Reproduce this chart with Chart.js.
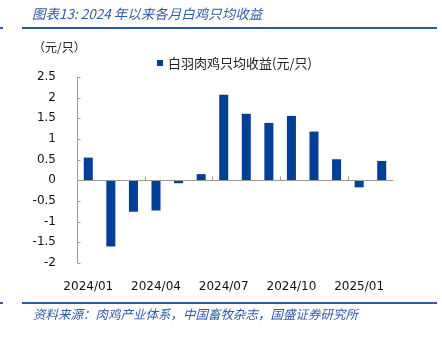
<!DOCTYPE html>
<html>
<head>
<meta charset="utf-8">
<script src="https://cdn.jsdelivr.net/npm/chart.js@4"></script>
<style>
  html, body { margin: 0; padding: 0; background: #fff; }
  #wrap { width: 442px; height: 337px; position: relative; }
</style>
</head>
<body>
<div id="wrap"><canvas id="profitChart" width="442" height="337"></canvas></div>
<script>
// Chart data
const months = ['2024/01', '2024/02', '2024/03', '2024/04', '2024/05', '2024/06', '2024/07',
  '2024/08', '2024/09', '2024/10', '2024/11', '2024/12', '2025/01', '2025/02'];
const profitPerBird = [0.55, -1.6, -0.76, -0.73, -0.07, 0.15, 2.07, 1.61, 1.39, 1.56, 1.18, 0.51, -0.17, 0.47];
const seriesLabel = '白羽肉鸡只均收益(元/只)';
const titleText = '图表13: 2024 年以来各月白鸡只均收益';
const unitText = '（元/只）';
const sourceText = '资料来源：肉鸡产业体系，中国畜牧杂志，国盛证券研究所';

const CJK = '"Noto Sans CJK SC", "Noto Sans", sans-serif';
const NUM = '"DejaVu Sans", sans-serif';
const barBlue = '#003f98';
const frameBlue = '#2e5ba8';
const axisGray = '#9a9a9a';

// Axes, legend, title and footer drawn on top of the chart
const decorPlugin = {
  id: 'decor',
  afterDatasetsDraw(chart) {
    const ctx = chart.ctx;
    const area = chart.chartArea;
    const x = chart.scales.x;
    const y = chart.scales.y;
    ctx.save();
    ctx.strokeStyle = axisGray;
    ctx.lineWidth = 1;

    // y axis line with inside ticks
    const ax = Math.round(area.left) + 0.5;
    ctx.beginPath();
    ctx.moveTo(ax, area.top);
    ctx.lineTo(ax, area.bottom);
    y.ticks.forEach(function(t) {
      const py = Math.round(y.getPixelForValue(t.value)) + 0.5;
      ctx.moveTo(ax, py);
      ctx.lineTo(ax + 3, py);
    });
    ctx.stroke();

    // zero line with tick marks every 3 months
    const zy = Math.round(y.getPixelForValue(0)) + 0.5;
    const step = x.getPixelForValue(1) - x.getPixelForValue(0);
    ctx.beginPath();
    ctx.moveTo(area.left, zy);
    ctx.lineTo(area.right, zy);
    for (let i = 3; i < months.length; i += 3) {
      const px = Math.round(x.getPixelForValue(i) - step / 2) + 0.5;
      ctx.moveTo(px, zy);
      ctx.lineTo(px, zy - 4);
    }
    ctx.stroke();
    ctx.restore();
  },
  afterDraw(chart) {
    const ctx = chart.ctx;
    ctx.save();

    // title and rules
    ctx.fillStyle = frameBlue;
    ctx.font = 'italic 13.5px ' + CJK;
    ctx.textBaseline = 'middle';
    ctx.textAlign = 'left';
    ctx.fillText(titleText, 32, 14);
    ctx.fillRect(22, 27, 415, 2);
    ctx.fillRect(0, 27, 3, 2);
    ctx.fillRect(22, 302, 415, 2);
    ctx.fillRect(0, 302, 3, 2);

    // footer
    ctx.font = 'italic 12.5px ' + CJK;
    ctx.fillText(sourceText, 33, 314);

    // unit
    ctx.fillStyle = '#222';
    ctx.font = '12px ' + CJK;
    ctx.fillText(unitText, 33, 47);

    // legend
    ctx.fillStyle = barBlue;
    ctx.fillRect(157, 60, 6, 6);
    ctx.fillStyle = '#222';
    ctx.font = '13px ' + CJK;
    ctx.fillText(seriesLabel, 168, 63);
    ctx.restore();
  }
};

const ctx = document.getElementById('profitChart').getContext('2d');
const profitChart = new Chart(ctx, {
  type: 'bar',
  data: {
    labels: months,
    datasets: [{
      label: seriesLabel,
      data: profitPerBird,
      backgroundColor: barBlue,
      borderWidth: 0,
      categoryPercentage: 1,
      barPercentage: 0.4
    }]
  },
  options: {
    responsive: false,
    animation: false,
    layout: {
      padding: { left: 0, right: 49, top: 77, bottom: 0 }
    },
    scales: {
      x: {
        grid: { display: false },
        border: { display: false },
        afterFit: function(scale) { scale.height = 74; },
        ticks: {
          autoSkip: false,
          maxRotation: 0,
          padding: 9,
          color: '#111',
          font: { family: NUM, size: 12 },
          callback: function(value, index) {
            return index % 3 === 0 ? months[index] : '';
          }
        }
      },
      y: {
        min: -2,
        max: 2.5,
        grid: { display: false },
        border: { display: false },
        afterFit: function(scale) { scale.width = 77; },
        ticks: {
          stepSize: 0.5,
          padding: 13,
          color: '#111',
          font: { family: NUM, size: 12 },
          callback: function(value) {
            return String(Math.round(value * 10) / 10);
          }
        }
      }
    },
    plugins: {
      legend: { display: false },
      tooltip: { enabled: false }
    }
  },
  plugins: [decorPlugin]
});
</script>
</body>
</html>
